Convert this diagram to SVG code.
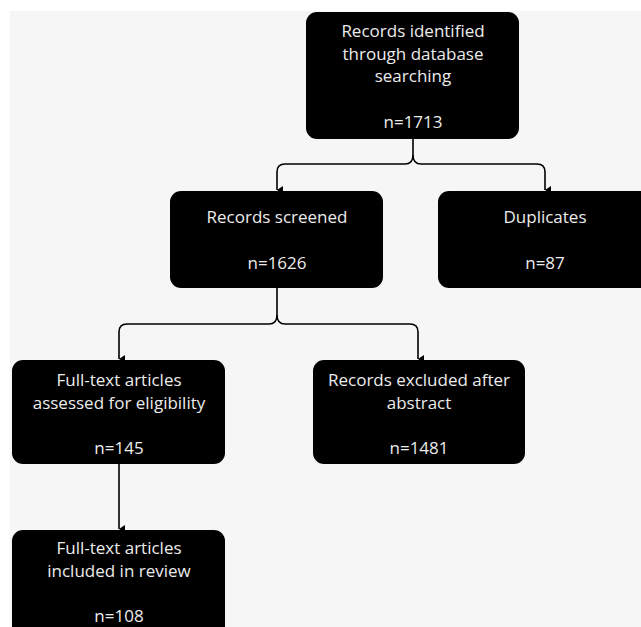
<svg xmlns="http://www.w3.org/2000/svg" width="641" height="627" viewBox="0 0 641 627">
<defs>
<marker id="ah" markerWidth="8" markerHeight="8" refX="4" refY="7" orient="auto" markerUnits="userSpaceOnUse" viewBox="0 0 8 8">
<path d="M0,1 L4,7 L8,1 Z" fill="#000"/>
</marker>
</defs>
<style>
.box{fill:#000}
.t{font-family:"Open Sans","Noto Sans",sans-serif;font-size:17px;fill:#ececec;text-anchor:middle}
.c{fill:none;stroke:#000;stroke-width:1.6}
</style>
<rect x="0" y="0" width="641" height="627" fill="#fff"/>
<rect x="10" y="11" width="631" height="616" fill="#f6f6f6"/>
<g id="connectors">
<path class="c" d="M413,139 V155 Q413,164 405,164 H285 Q277,164 277,172 V190" marker-end="url(#ah)"/>
<path class="c" d="M413,155 Q413,164 421,164 H537 Q545,164 545,172 V190" marker-end="url(#ah)"/>
<path class="c" d="M277,288 V315 Q277,324 269,324 H127 Q119,324 119,332 V359" marker-end="url(#ah)"/>
<path class="c" d="M277,315 Q277,324 285,324 H410 Q418,324 418,332 V359" marker-end="url(#ah)"/>
<path class="c" d="M119,464 V529" marker-end="url(#ah)"/>
</g>
<g id="n1">
<rect class="box" x="306" y="12" width="213" height="127" rx="11"/>
<text class="t" x="413" y="37">Records identified</text>
<text class="t" x="413" y="60">through database</text>
<text class="t" x="413" y="82">searching</text>
<text class="t" x="413" y="128">n=1713</text>
</g>
<g id="n2">
<rect class="box" x="170" y="191" width="213" height="97" rx="11"/>
<text class="t" x="277" y="223">Records screened</text>
<text class="t" x="277" y="269">n=1626</text>
</g>
<g id="n3">
<rect class="box" x="438" y="191" width="220" height="97" rx="11"/>
<text class="t" x="545" y="223">Duplicates</text>
<text class="t" x="545" y="269">n=87</text>
</g>
<g id="n4">
<rect class="box" x="12" y="360" width="213" height="104" rx="11"/>
<text class="t" x="119" y="386">Full-text articles</text>
<text class="t" x="119" y="409">assessed for eligibility</text>
<text class="t" x="119" y="454">n=145</text>
</g>
<g id="n5">
<rect class="box" x="313" y="360" width="212" height="104" rx="11"/>
<text class="t" x="419" y="386">Records excluded after</text>
<text class="t" x="419" y="409">abstract</text>
<text class="t" x="419" y="454">n=1481</text>
</g>
<g id="n6">
<rect class="box" x="12" y="530" width="213" height="110" rx="11"/>
<text class="t" x="119" y="554">Full-text articles</text>
<text class="t" x="119" y="577">included in review</text>
<text class="t" x="119" y="622">n=108</text>
</g>
</svg>
